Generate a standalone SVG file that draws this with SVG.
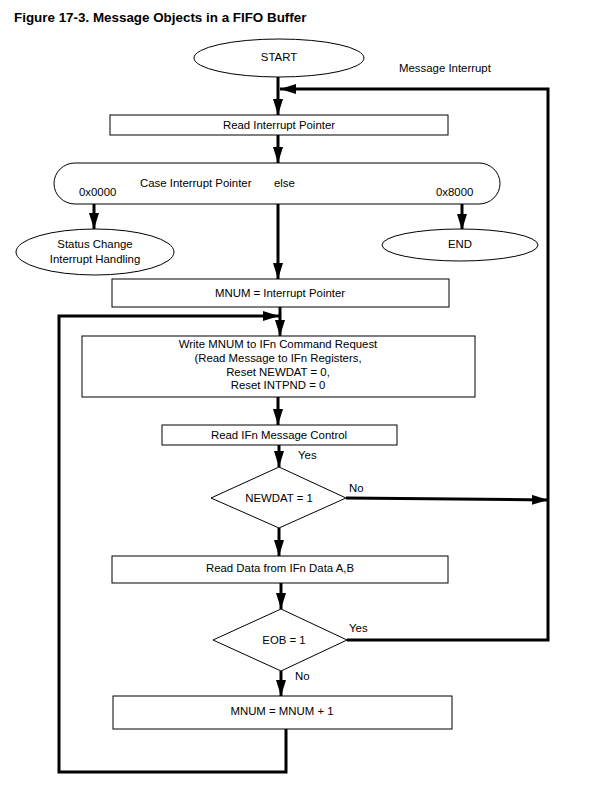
<svg xmlns="http://www.w3.org/2000/svg" width="601" height="790" viewBox="0 0 601 790">
<style>
.box{fill:#fff;stroke:#000;stroke-width:1}
.t{font-family:"Liberation Sans",Arial,sans-serif;font-size:11.4px;fill:#000}
.c{text-anchor:middle}
.title{font-family:"Liberation Sans",Arial,sans-serif;font-size:13.4px;font-weight:bold;fill:#000}
.ln{fill:none;stroke:#000;stroke-width:3}
</style>
<defs>
<marker id="ah" viewBox="0 0 16 10" refX="16" refY="5" markerWidth="16" markerHeight="10" markerUnits="userSpaceOnUse" orient="auto">
<path d="M0,0 L16,5 L0,10 z" fill="#000"/>
</marker>
</defs>
<rect width="601" height="790" fill="#fff"/>
<text class="title" x="14" y="22">Figure 17-3. Message Objects in a FIFO Buffer</text>
<text class="t" x="399" y="72">Message Interrupt</text>

<g id="connectors">
<path class="ln" d="M278,77 V115" marker-end="url(#ah)"/>
<path class="ln" d="M347,640 H548 V89 H280" marker-end="url(#ah)"/>
<path class="ln" d="M346,498 L548,500" marker-end="url(#ah)"/>
<path class="ln" d="M278,135 V163" marker-end="url(#ah)"/>
<path class="ln" d="M94,204 V229" marker-end="url(#ah)"/>
<path class="ln" d="M462,204 V230" marker-end="url(#ah)"/>
<path class="ln" d="M278,204 V279" marker-end="url(#ah)"/>
<path class="ln" d="M280,307 V336" marker-end="url(#ah)"/>
<path class="ln" d="M286,729 V772 H59 V316 H279" marker-end="url(#ah)"/>
<path class="ln" d="M278,397 V425" marker-end="url(#ah)"/>
<path class="ln" d="M279,445 V467" marker-end="url(#ah)"/>
<path class="ln" d="M279,528 V556" marker-end="url(#ah)"/>
<path class="ln" d="M281,583 V609" marker-end="url(#ah)"/>
<path class="ln" d="M281,671 V696" marker-end="url(#ah)"/>
</g>

<g id="start">
<ellipse class="box" cx="279" cy="58" rx="85" ry="19"/>
<text class="t c" x="279" y="61">START</text>
</g>
<g id="read-interrupt-pointer">
<rect class="box" x="110" y="115" width="338" height="20"/>
<text class="t c" x="279" y="129">Read Interrupt Pointer</text>
</g>
<g id="case">
<rect class="box" x="54" y="163" width="446" height="41" rx="21"/>
<text class="t" x="140" y="187">Case Interrupt Pointer</text>
<text class="t" x="274" y="187">else</text>
<text class="t" x="79" y="196">0x0000</text>
<text class="t" x="436" y="196">0x8000</text>
</g>
<g id="status-change">
<ellipse class="box" cx="95" cy="252" rx="79" ry="23"/>
<text class="t c" x="95" y="248">Status Change</text>
<text class="t c" x="95" y="263">Interrupt Handling</text>
</g>
<g id="end">
<ellipse class="box" cx="460" cy="245" rx="78" ry="16"/>
<text class="t c" x="460" y="248">END</text>
</g>
<g id="mnum-assign">
<rect class="box" x="112" y="279" width="337" height="28"/>
<text class="t c" x="280" y="297">MNUM = Interrupt Pointer</text>
</g>
<g id="write-mnum">
<rect class="box" x="82" y="336" width="393" height="61"/>
<text class="t c" x="278" y="348">Write MNUM to IFn Command Request</text>
<text class="t c" x="278" y="362">(Read Message to IFn Registers,</text>
<text class="t c" x="278" y="376">Reset NEWDAT = 0,</text>
<text class="t c" x="278" y="389">Reset INTPND = 0</text>
</g>
<g id="read-msg-control">
<rect class="box" x="162" y="425" width="235" height="20"/>
<text class="t c" x="279" y="439">Read IFn Message Control</text>
</g>
<text class="t" x="298" y="459">Yes</text>
<g id="newdat">
<polygon class="box" points="279,467 346,498 279,528 211,498"/>
<text class="t c" x="279" y="502">NEWDAT = 1</text>
</g>
<text class="t" x="349" y="492">No</text>
<g id="read-data">
<rect class="box" x="112" y="556" width="336" height="27"/>
<text class="t c" x="280" y="572">Read Data from IFn Data A,B</text>
</g>
<g id="eob">
<polygon class="box" points="281,609 347,640 281,671 213,640"/>
<text class="t c" x="284" y="644">EOB = 1</text>
</g>
<text class="t" x="349" y="632">Yes</text>
<text class="t" x="295" y="680">No</text>
<g id="mnum-inc">
<rect class="box" x="113" y="696" width="339" height="33"/>
<text class="t c" x="282" y="715">MNUM = MNUM + 1</text>
</g>
</svg>
